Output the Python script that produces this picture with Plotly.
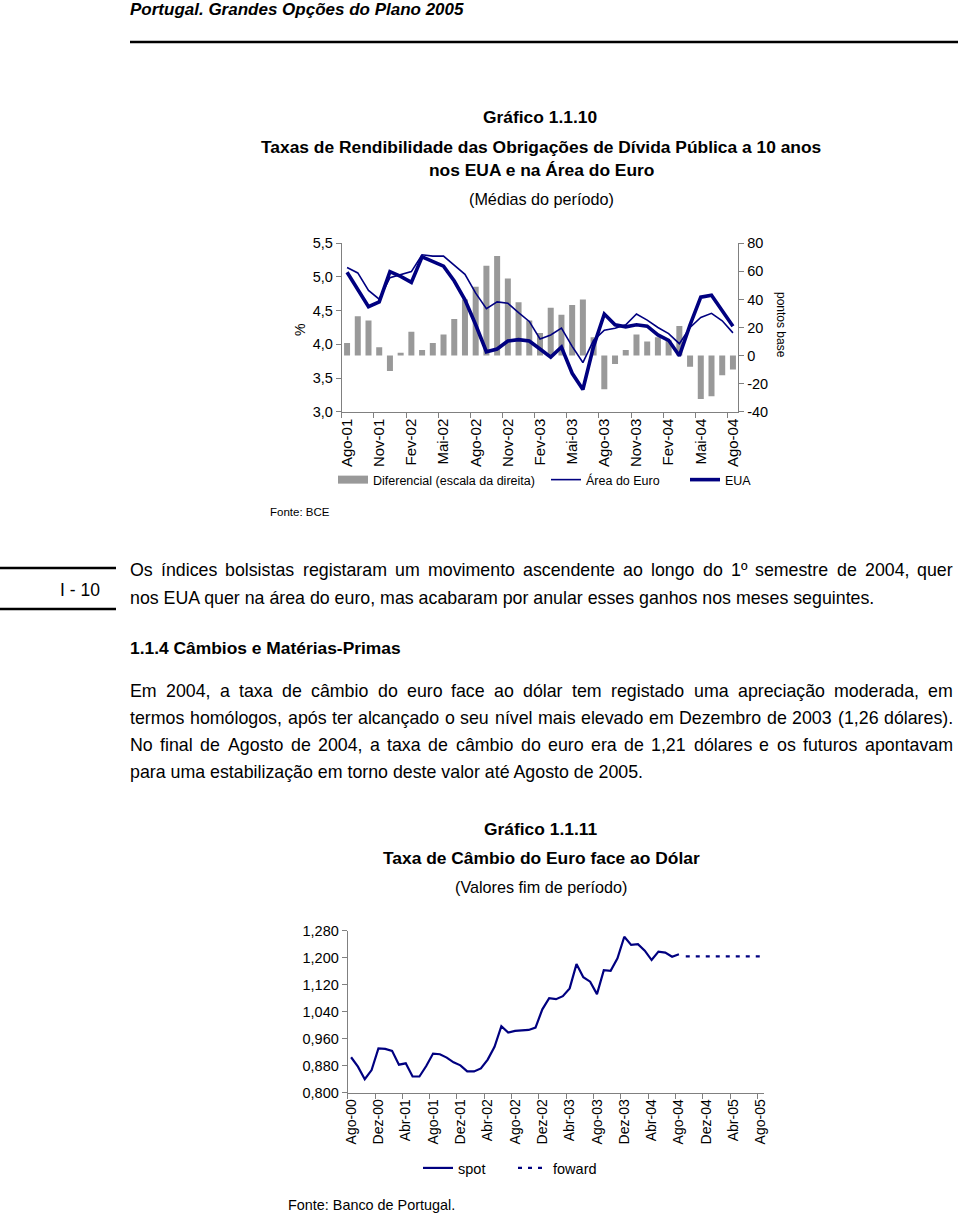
import plotly.graph_objects as go

W, H = 960, 1215
FONT = "Liberation Sans, Arial, sans-serif"
NAVY = "#000080"
GRAY = "#999999"
AXIS = "#808080"

# ---------------- Chart 1 data ----------------
months1 = ["Ago-01", "Set-01", "Out-01", "Nov-01", "Dez-01", "Jan-02", "Fev-02", "Mar-02",
           "Abr-02", "Mai-02", "Jun-02", "Jul-02", "Ago-02", "Set-02", "Out-02", "Nov-02",
           "Dez-02", "Jan-03", "Fev-03", "Mar-03", "Abr-03", "Mai-03", "Jun-03", "Jul-03",
           "Ago-03", "Set-03", "Out-03", "Nov-03", "Dez-03", "Jan-04", "Fev-04", "Mar-04",
           "Abr-04", "Mai-04", "Jun-04", "Jul-04", "Ago-04"]
diferencial = [9, 28, 25, 6, -11, 2, 17, 4, 9, 15, 26, 40, 49, 64, 71, 55, 38, 25, 16,
               34, 29, 36, 40, 13, -24, -6, 4, 15, 10, 13, 11, 21, -8, -31, -29, -14, -10]
area_euro = [5.14, 5.06, 4.80, 4.67, 4.99, 5.04, 5.08, 5.33, 5.31, 5.31, 5.18, 5.04, 4.76,
             4.53, 4.63, 4.61, 4.47, 4.34, 4.08, 4.14, 4.24, 3.97, 3.73, 4.06, 4.21, 4.24,
             4.29, 4.45, 4.36, 4.25, 4.16, 4.01, 4.25, 4.40, 4.46, 4.35, 4.17]
eua = [5.07, 4.82, 4.56, 4.63, 5.08, 5.01, 4.92, 5.30, 5.23, 5.16, 4.94, 4.66, 4.29,
       3.89, 3.93, 4.05, 4.07, 4.05, 3.93, 3.81, 3.96, 3.57, 3.33, 3.97, 4.45, 4.29,
       4.26, 4.29, 4.27, 4.14, 4.06, 3.83, 4.29, 4.70, 4.73, 4.49, 4.27]
left_ticks1 = [3.0, 3.5, 4.0, 4.5, 5.0, 5.5]
left_labels1 = ["3,0", "3,5", "4,0", "4,5", "5,0", "5,5"]
right_ticks1 = [-40, -20, 0, 20, 40, 60, 80]
right_labels1 = ["-40", "-20", "0", "20", "40", "60", "80"]

# ---------------- Chart 2 data ----------------
mnames = ["Jan", "Fev", "Mar", "Abr", "Mai", "Jun", "Jul", "Ago", "Set", "Out", "Nov", "Dez"]
months2 = [f"{mnames[(7 + i) % 12]}-{(2000 + (7 + i) // 12) % 100:02d}" for i in range(61)]
spot = [0.905, 0.877, 0.840, 0.867, 0.931, 0.930, 0.924, 0.883, 0.887, 0.848, 0.848,
        0.879, 0.916, 0.914, 0.904, 0.890, 0.881, 0.863, 0.863, 0.872, 0.898, 0.936,
        0.997, 0.978, 0.983, 0.985, 0.986, 0.993, 1.047, 1.080, 1.077, 1.086, 1.109,
        1.181, 1.142, 1.129, 1.092, 1.163, 1.161, 1.198, 1.262, 1.238, 1.240, 1.221,
        1.193, 1.218, 1.215, 1.203, 1.210]
forward = [1.204, 1.204, 1.204, 1.204, 1.204, 1.204, 1.204, 1.204, 1.204, 1.204, 1.204, 1.204]
ticks2 = [0.80, 0.88, 0.96, 1.04, 1.12, 1.20, 1.28]
labels2 = ["0,800", "0,880", "0,960", "1,040", "1,120", "1,200", "1,280"]

# ---------------- Text ----------------
para1 = ["Os índices bolsistas registaram um movimento ascendente ao longo do 1º semestre de 2004, quer",
         "nos EUA quer na área do euro, mas acabaram por anular esses ganhos nos meses seguintes."]
para2 = ["Em 2004, a taxa de câmbio do euro face ao dólar tem registado uma apreciação moderada, em",
         "termos homólogos, após ter alcançado o seu nível mais elevado em Dezembro de 2003 (1,26 dólares).",
         "No final de Agosto de 2004, a taxa de câmbio do euro era de 1,21 dólares e os futuros apontavam",
         "para uma estabilização em torno deste valor até Agosto de 2005."]


def px_x(x):
    return x / W


def px_y(y):
    return 1 - y / H


# Arial / Liberation Sans advance widths (per 1000 em)
def _table(groups):
    d = {}
    for chars, w in groups:
        for c in chars:
            d[c] = w
    return d


REG = _table([(" ,.:;!fIt'íì", 278), ("ijl", 222), ("r-()", 333), ("cksvxyzJç", 500),
              ("abdeghnopquLáàâãéêóôõú0123456789", 556), ("FTZ", 611),
              ("ABEKPSVXYÁÂÃÉ", 667), ("CDHNRUw", 722), ("GOQ", 778), ("Mm", 833),
              ("W", 944), ("º", 365)])
BOLD = _table([(" ,.;!Iijlí", 278), ("ft-():", 333), ("r", 389), ("z", 500),
               ("aceksvxyJçáàâãéê0123456789", 556), ("bdghnopquóôõúFTLZ", 611),
               ("EPSVXY", 667), ("ABCDHKNRUÁÂ", 722), ("GOQw", 778), ("M", 833),
               ("m", 889), ("W", 944), ("º", 365)])


def text_w(s, size, bold=False):
    t = BOLD if bold else REG
    return sum(t.get(c, 556) for c in s) * size / 1000.0


annotations = []


def txt(s, x, y, size, bold=False, italic=False, xanchor="left", angle=0):
    t = s
    if bold:
        t = f"<b>{t}</b>"
    if italic:
        t = f"<i>{t}</i>"
    annotations.append(dict(text=t, x=px_x(x), y=px_y(y), xref="paper", yref="paper",
                            xanchor=xanchor, yanchor="middle", showarrow=False,
                            textangle=angle, borderpad=0, borderwidth=0,
                            font=dict(size=size, family=FONT, color="black")))


def justify(line, y, size, x0=130, x1=953):
    words = line.split(" ")
    widths = [text_w(w, size) for w in words]
    gap = (x1 - x0 - sum(widths)) / (len(words) - 1)
    x = x0
    for i, (w, wd) in enumerate(zip(words, widths)):
        if i == len(words) - 1:
            txt(w, x1, y, size, xanchor="right")
        else:
            txt(w, x, y, size)
        x += wd + gap


BODY = 17.8
TITLE = 17.4

# header
txt("Portugal. Grandes Opções do Plano 2005", 130, 9, 17, bold=True, italic=True)
# chart 1 titles
txt("Gráfico 1.1.10", 483, 117, TITLE, bold=True)
txt("Taxas de Rendibilidade das Obrigações de Dívida Pública a 10 anos", 541, 147, TITLE,
    bold=True, xanchor="center")
txt("nos EUA e na Área do Euro", 541, 170, TITLE, bold=True, xanchor="center")
txt("(Médias do período)", 541, 199, 16.2, xanchor="center")
txt("%", 300, 330, 14, xanchor="center", angle=-90)
txt("pontos base", 781, 325, 12, xanchor="center", angle=90)
txt("Fonte: BCE", 270, 512, 11.5)

# body text
txt("I - 10", 60, 590, 17.5)
justify(para1[0], 570, BODY)
txt(para1[1], 130, 598, BODY)
txt("1.1.4 Câmbios e Matérias-Primas", 130, 648, TITLE, bold=True)
justify(para2[0], 691, BODY)
justify(para2[1], 718, BODY)
justify(para2[2], 745, BODY)
txt(para2[3], 130, 772, BODY)

# chart 2 titles
txt("Gráfico 1.1.11", 484, 829, TITLE, bold=True)
txt("Taxa de Câmbio do Euro face ao Dólar", 541, 858, TITLE, bold=True, xanchor="center")
txt("(Valores fim de período)", 541, 887, 16.2, xanchor="center")
txt("Fonte: Banco de Portugal.", 288, 1205, 14.4)

shapes = [
    dict(type="line", xref="paper", yref="paper", x0=px_x(130), x1=px_x(958),
         y0=px_y(42), y1=px_y(42), line=dict(color="black", width=2.5)),
    dict(type="line", xref="paper", yref="paper", x0=0, x1=px_x(116),
         y0=px_y(568), y1=px_y(568), line=dict(color="black", width=2.5)),
    dict(type="line", xref="paper", yref="paper", x0=0, x1=px_x(116),
         y0=px_y(609), y1=px_y(609), line=dict(color="black", width=2.5)),
]

fig = go.Figure()

# chart 1: bars (right scale) under lines (left scale)
fig.add_trace(go.Bar(x=months1, y=diferencial, xaxis="x", yaxis="y", marker_color=GRAY,
                     marker_line_width=0, showlegend=False, hoverinfo="skip"))
fig.add_trace(go.Scatter(x=[None], y=[None], xaxis="x", yaxis="y", mode="lines",
                         line=dict(color=GRAY, width=8),
                         name="Diferencial (escala da direita)", legend="legend"))
fig.add_trace(go.Scatter(x=months1, y=area_euro, xaxis="x", yaxis="y2", mode="lines",
                         line=dict(color=NAVY, width=1.6), name="Área do Euro",
                         legend="legend2"))
fig.add_trace(go.Scatter(x=months1, y=eua, xaxis="x", yaxis="y2", mode="lines",
                         line=dict(color=NAVY, width=3.6), name="EUA", legend="legend3"))

# chart 2
fig.add_trace(go.Scatter(x=months2[:len(spot)], y=spot, xaxis="x2", yaxis="y3", mode="lines",
                         line=dict(color=NAVY, width=2.2), name="spot", legend="legend4"))
fig.add_trace(go.Scatter(x=months2[len(spot):], y=forward, xaxis="x2", yaxis="y3",
                         mode="lines", line=dict(color=NAVY, width=2.2, dash="4px,6px"),
                         name="foward", legend="legend5"))

tickfont = dict(size=14.5, family=FONT, color="black")
common_axis = dict(showline=True, linecolor=AXIS, linewidth=1, ticks="outside", ticklen=5,
                   tickcolor=AXIS, tickwidth=1, showgrid=False, zeroline=False,
                   fixedrange=True)


def legend_at(x, y, size):
    return dict(x=px_x(x), y=px_y(y), xanchor="left", yanchor="middle", orientation="h",
                font=dict(size=size, family=FONT, color="black"),
                bgcolor="rgba(0,0,0,0)", borderwidth=0)


fig.update_layout(
    width=W, height=H, autosize=False, template="none",
    margin=dict(l=0, r=0, t=0, b=0, pad=0),
    paper_bgcolor="white", plot_bgcolor="rgba(0,0,0,0)",
    bargap=0.44, showlegend=True,
    xaxis=dict(common_axis, domain=[px_x(341.7), px_x(738.3)], anchor="y", type="category",
               categoryorder="array", categoryarray=months1, range=[-0.5, len(months1) - 0.5],
               tickmode="linear", tick0=0, dtick=3, tickson="boundaries", tickangle=-90,
               tickfont=dict(size=15, family=FONT, color="black")),
    yaxis=dict(common_axis, domain=[px_y(411.7), px_y(243.3)], anchor="x", side="right",
               range=[-40, 80], tickmode="array", tickvals=right_ticks1,
               ticktext=right_labels1, tickfont=tickfont),
    yaxis2=dict(common_axis, overlaying="y", anchor="x", side="left", range=[3.0, 5.5],
                tickmode="array", tickvals=left_ticks1, ticktext=left_labels1,
                tickfont=tickfont),
    xaxis2=dict(common_axis, domain=[px_x(347.7), px_x(764.3)], anchor="y3", type="category",
                categoryorder="array", categoryarray=months2, range=[-0.5, len(months2) - 0.5],
                tickmode="linear", tick0=0, dtick=4, tickson="boundaries", tickangle=-90,
                tickfont=dict(size=14, family=FONT, color="black")),
    yaxis3=dict(common_axis, domain=[px_y(1092.7), px_y(930.7)], anchor="x2",
                range=[0.8, 1.28], tickmode="array", tickvals=ticks2, ticktext=labels2,
                tickfont=tickfont),
    legend=legend_at(333, 480, 12.5),
    legend2=legend_at(546, 480, 12.5),
    legend3=legend_at(685, 480, 12.5),
    legend4=legend_at(418, 1168, 14.5),
    legend5=legend_at(513, 1168, 14.5),
    annotations=annotations,
    shapes=shapes,
)

fig.write_html("out.html", config={"displayModeBar": False},
               post_script="document.body.style.margin='0';")
